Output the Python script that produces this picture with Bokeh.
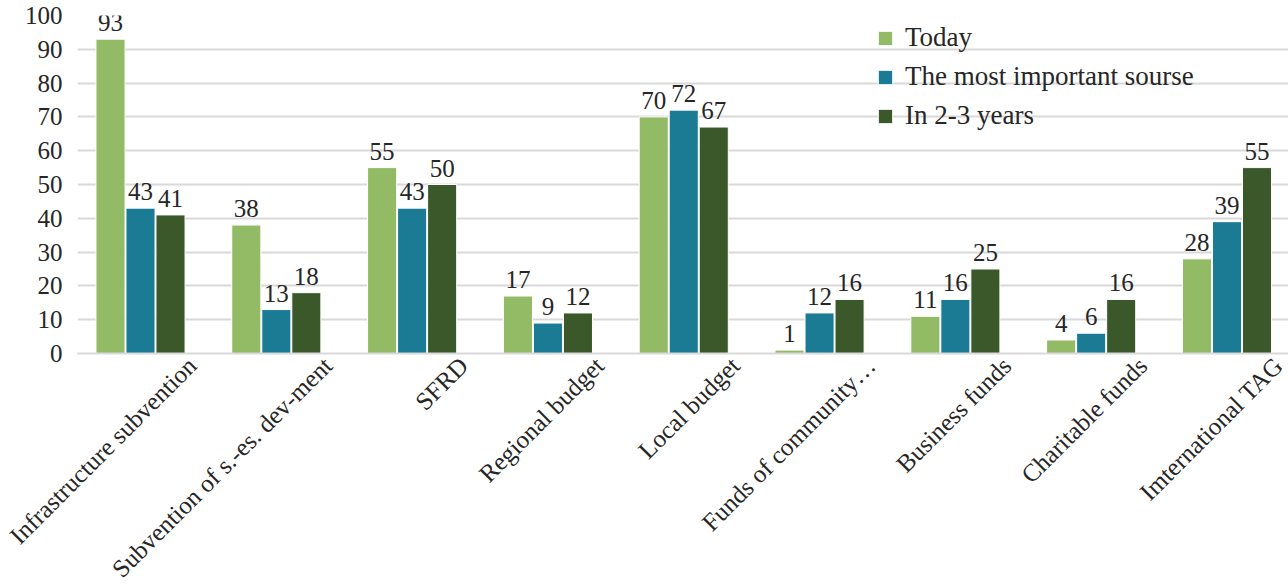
import numpy as np
from bokeh.plotting import figure
from bokeh.models import ColumnDataSource, Range1d, FixedTicker, Legend, LegendItem, LabelSet
from bokeh.transform import dodge
from bokeh.core.properties import value
from bokeh.embed import file_html
from bokeh.resources import INLINE

categories = ["Infrastructure subvention", "Subvention of s.-es. dev-ment", "SFRD",
              "Regional budget", "Local budget", "Funds of community\u2026",
              "Business funds", "Charitable funds", "Imternational TAG"]
today = [93, 38, 55, 17, 70, 1, 11, 4, 28]
most_important = [43, 13, 43, 9, 72, 12, 16, 6, 39]
in_2_3_years = [41, 18, 50, 12, 67, 16, 25, 16, 55]
series_names = ["Today", "The most important sourse", "In 2-3 years"]
y_ticks = list(range(0, 101, 10))

colors = ["#93BA64", "#1B7B95", "#3A5829"]
FONT = "Liberation Serif"
TXT = "#262626"

idx = list(range(len(categories)))
src = ColumnDataSource(dict(
    x=idx,
    today=today, most=most_important, later=in_2_3_years,
    today_l=[str(v) for v in today],
    most_l=[str(v) for v in most_important],
    later_l=[str(v) for v in in_2_3_years],
))

p = figure(width=1288, height=595, output_backend="svg", toolbar_location=None,
           x_range=Range1d(-0.464, 8.453), y_range=Range1d(0, 100),
           min_border_left=77, min_border_right=0, min_border_top=15, min_border_bottom=10)
p.outline_line_color = None
p.background_fill_color = "white"

offs = [-0.221, 0.0, 0.221]
cols = ["today", "most", "later"]
renderers = []
for off, c, col in zip(offs, colors, cols):
    r = p.vbar(x=dodge("x", off), top=col, width=0.214, source=src,
               fill_color=c, line_color="white", line_width=1)
    renderers.append(r)
    lab = LabelSet(x=dodge("x", off), y=col, text=col + "_l", source=src,
                   text_align="center", text_baseline="alphabetic", y_offset=8,
                   text_font=value(FONT), text_font_size="25px", text_color=TXT)
    p.add_layout(lab)

# grid
p.xgrid.visible = False
p.ygrid.ticker = FixedTicker(ticks=y_ticks)
p.ygrid.grid_line_color = "#d9d9d9"
p.ygrid.grid_line_width = 2

# y axis
ya = p.yaxis[0]
ya.ticker = FixedTicker(ticks=y_ticks)
ya.axis_line_color = None
ya.major_tick_line_color = None
ya.minor_tick_line_color = None
ya.major_tick_out = 0
ya.major_tick_in = 0
ya.major_label_standoff = 15
ya.major_label_text_font = FONT
ya.major_label_text_font_size = "25px"
ya.major_label_text_color = TXT

# x axis
tick_pos = [i + 0.38 for i in idx]
xa = p.xaxis[0]
xa.ticker = FixedTicker(ticks=tick_pos)
xa.major_label_overrides = dict(zip(tick_pos, categories))
xa.major_label_orientation = np.pi / 4
xa.major_label_standoff = 8
xa.axis_line_color = "#d9d9d9"
xa.axis_line_width = 2
xa.major_tick_line_color = None
xa.minor_tick_line_color = None
xa.major_tick_out = 0
xa.major_tick_in = 0
xa.major_label_text_font = FONT
xa.major_label_text_font_size = "25px"
xa.major_label_text_color = TXT

legend = Legend(items=[LegendItem(label=n, renderers=[r]) for n, r in zip(series_names, renderers)],
                location=(799, 222), orientation="vertical",
                background_fill_alpha=0, border_line_alpha=0,
                glyph_width=18, glyph_height=18, label_standoff=11, spacing=8,
                padding=0, margin=0,
                label_text_font=FONT, label_text_font_size="27px", label_text_color=TXT)
p.add_layout(legend)

open("out.html", "w").write(file_html(p, INLINE))
